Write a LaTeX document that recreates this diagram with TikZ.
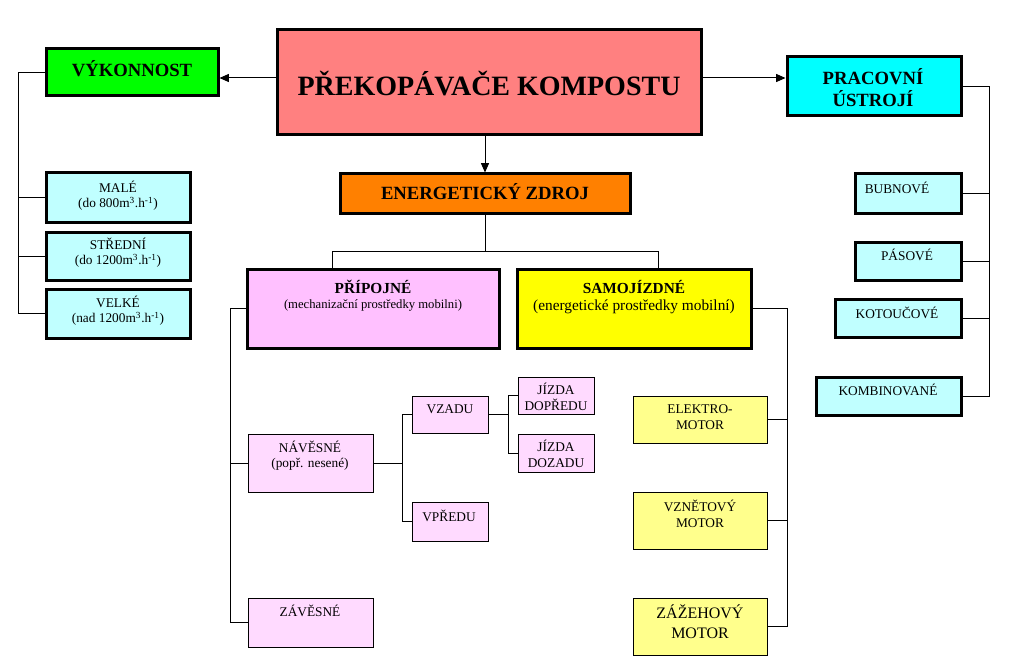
\documentclass[tikz,border=0pt]{standalone}
\usepackage{fontspec}
\setmainfont{Liberation Serif}
\usetikzlibrary{arrows.meta,fit}

\definecolor{titlered}{RGB}{255,128,128}
\definecolor{vykgreen}{RGB}{0,255,0}
\definecolor{praccyan}{RGB}{0,255,255}
\definecolor{energorange}{RGB}{255,128,0}
\definecolor{prippink}{RGB}{255,192,255}
\definecolor{samyellow}{RGB}{255,255,0}
\definecolor{lightcyan}{RGB}{192,255,255}
\definecolor{pinkhatch}{RGB}{255,218,255}
\definecolor{yellowhatch}{RGB}{255,255,140}

\tikzset{
	bigbox/.style={draw, line width=2.25pt, inner sep=0pt},
	thinbox/.style={draw, line width=0.75pt, inner sep=0pt},
	txt/.style={inner sep=0pt, align=center},
	conn/.style={line width=0.75pt},
	arr/.style={conn, -{Triangle[length=7pt,width=6pt]}},
}

\begin{document}
\begin{tikzpicture}[x=0.75pt,y=-0.75pt]
	\newcommand{\myfonttitle}{\fontsize{21}{25}\selectfont\bfseries}
	\newcommand{\myfonthead}{\fontsize{14}{16.5}\selectfont\bfseries}
	\newcommand{\myfontsub}{\fontsize{11.5}{13}\selectfont\bfseries}
	\newcommand{\myfontsmall}{\fontsize{10}{11.5}\selectfont}
	\newcommand{\myfontbig}{\fontsize{12}{15}\selectfont}
	%Page
	\useasboundingbox (0,0) rectangle (1031,656);
	%Title box
	\node [bigbox, fill=titlered, fit={(277,30) (701,135)}] (title) {};
	\node [txt, font=\myfonttitle] (titleT) at (489,84) {PŘEKOPÁVAČE KOMPOSTU};
	%Left branch: VYKONNOST
	\node [bigbox, fill=vykgreen, fit={(46,49) (218,96)}] (vyk) {};
	\node [txt, font=\myfonthead] (vykT) at (132,69) {VÝKONNOST};
	\node [bigbox, fill=lightcyan, fit={(46,173) (190,222)}] (male) {};
	\node [txt, font=\myfontsmall] (maleT) at (118,196) {MALÉ\\(do 800m\textsuperscript{3}.h\textsuperscript{-1})};
	\node [bigbox, fill=lightcyan, fit={(46,232) (190,280)}] (stred) {};
	\node [txt, font=\myfontsmall] (stredT) at (118,253) {STŘEDNÍ\\(do 1200m\textsuperscript{3}.h\textsuperscript{-1})};
	\node [bigbox, fill=lightcyan, fit={(46,289) (190,338)}] (velke) {};
	\node [txt, font=\myfontsmall] (velkeT) at (118,311) {VELKÉ\\(nad 1200m\textsuperscript{3}.h\textsuperscript{-1})};
	%Right branch: PRACOVNI USTROJI
	\node [bigbox, fill=praccyan, fit={(787,57) (961,116)}] (prac) {};
	\node [txt, font=\myfonthead] (pracT) at (873,88) {PRACOVNÍ\\ÚSTROJÍ};
	\node [bigbox, fill=lightcyan, fit={(855,174) (961,213)}] (bubn) {};
	\node [txt, font=\myfontsmall] (bubnT) at (897,188) {BUBNOVÉ};
	\node [bigbox, fill=lightcyan, fit={(855,242) (961,280)}] (pas) {};
	\node [txt, font=\myfontsmall] (pasT) at (907,255) {PÁSOVÉ};
	\node [bigbox, fill=lightcyan, fit={(835,299) (961,337)}] (kotou) {};
	\node [txt, font=\myfontsmall] (kotouT) at (897,313) {KOTOUČOVÉ};
	\node [bigbox, fill=lightcyan, fit={(816,377) (961,415)}] (kombi) {};
	\node [txt, font=\myfontsmall] (kombiT) at (888,390) {KOMBINOVANÉ};
	%Middle: ENERGETICKY ZDROJ
	\node [bigbox, fill=energorange, fit={(340,174) (630,213)}] (energ) {};
	\node [txt, font=\myfonthead] (energT) at (485,192) {ENERGETICKÝ ZDROJ};
	\node [bigbox, fill=prippink, fit={(247,269) (499,348)}] (pripoj) {};
	\node [txt, font=\myfontsub] (pripojT) at (373,287) {PŘÍPOJNÉ};
	\node [txt, font=\fontsize{9.5}{11}\selectfont] (pripojS) at (373,305) {(mechanizační prostředky mobilni)};
	\node [bigbox, fill=samyellow, fit={(517,269) (751,348)}] (samoj) {};
	\node [txt, font=\myfontsub] (samojT) at (634,287) {SAMOJÍZDNÉ};
	\node [txt, font=\fontsize{11.5}{13}\selectfont] (samojS) at (634,307) {(energetické prostředky mobilní)};
	%Pripojne sub-boxes
	\node [thinbox, fill=pinkhatch, fit={(248,434) (373,492)}] (naves) {};
	\node [txt, font=\myfontsmall] (navesT) at (310,456) {NÁVĚSNÉ\\(popř. nesené)};
	\node [thinbox, fill=pinkhatch, fit={(248,598) (373,647)}] (zaves) {};
	\node [txt, font=\myfontsmall] (zavesT) at (310,611) {ZÁVĚSNÉ};
	\node [thinbox, fill=pinkhatch, fit={(412,396) (488,433)}] (vzadu) {};
	\node [txt, font=\myfontsmall] (vzaduT) at (450,409) {VZADU};
	\node [thinbox, fill=pinkhatch, fit={(412,502) (488,541)}] (vpredu) {};
	\node [txt, font=\myfontsmall] (vpreduT) at (449,516) {VPŘEDU};
	\node [thinbox, fill=pinkhatch, fit={(518,377) (594,414)}] (jdopr) {};
	\node [txt, font=\myfontsmall] (jdoprT) at (556,397) {JÍZDA\\DOPŘEDU};
	\node [thinbox, fill=pinkhatch, fit={(518,434) (594,472)}] (jdoz) {};
	\node [txt, font=\myfontsmall] (jdozT) at (556,454) {JÍZDA\\DOZADU};
	%Samojizdne sub-boxes
	\node [thinbox, fill=yellowhatch, fit={(633,396) (767,443)}] (elek) {};
	\node [txt, font=\myfontsmall] (elekT) at (700,417) {ELEKTRO-\\MOTOR};
	\node [thinbox, fill=yellowhatch, fit={(633,492) (767,549)}] (vznet) {};
	\node [txt, font=\myfontsmall] (vznetT) at (700,514) {VZNĚTOVÝ\\MOTOR};
	\node [thinbox, fill=yellowhatch, fit={(633,598) (767,655)}] (zazeh) {};
	\node [txt, font=\myfontbig] (zazehT) at (700,622) {ZÁŽEHOVÝ\\MOTOR};
	%Arrows from the title
	\coordinate (lvl) at (0,78);
	\draw [arr] (title.west |- lvl) -- (vyk.east |- lvl);
	\draw [arr] (title.east |- lvl) -- (prac.west |- lvl);
	\draw [arr] (energ.north |- title.south) -- (energ.north);
	%Spines of the trees
	\coordinate (vykSpine) at (18,0);
	\coordinate (pracSpine) at (989,0);
	\coordinate (pripSpine) at (230,0);
	\coordinate (navSpine) at (402,0);
	\coordinate (vzaSpine) at (508,0);
	\coordinate (samSpine) at (787,0);
	\coordinate (busL) at (332,251);
	\coordinate (busR) at (658,251);
	%Vykonnost tree
	\draw [conn] (vyk.west) -- (vyk.west -| vykSpine) |- (velke.west);
	\draw [conn] (male.west) -- (male.west -| vykSpine);
	\draw [conn] (stred.west) -- (stred.west -| vykSpine);
	%Pracovni ustroji tree
	\draw [conn] (prac.east) -- (prac.east -| pracSpine) |- (kombi.east);
	\draw [conn] (bubn.east) -- (bubn.east -| pracSpine);
	\draw [conn] (pas.east) -- (pas.east -| pracSpine);
	\draw [conn] (kotou.east) -- (kotou.east -| pracSpine);
	%Energeticky zdroj split
	\draw [conn] (energ.south) -- (energ.south |- busL);
	\draw [conn] (pripoj.north -| busL) -- (busL) -- (busR) -- (samoj.north -| busR);
	%Pripojne tree
	\draw [conn] (pripoj.west) -- (pripoj.west -| pripSpine) |- (zaves.west);
	\draw [conn] (naves.west) -- (naves.west -| pripSpine);
	\draw [conn] (naves.east) -- (naves.east -| navSpine);
	\draw [conn] (vzadu.west) -- (vzadu.west -| navSpine) -- (vpredu.west -| navSpine) -- (vpredu.west);
	\draw [conn] (vzadu.east) -- (vzadu.east -| vzaSpine);
	\draw [conn] (jdopr.west) -- (jdopr.west -| vzaSpine) -- (jdoz.west -| vzaSpine) -- (jdoz.west);
	%Samojizdne tree
	\draw [conn] (samoj.east) -- (samoj.east -| samSpine) |- (zazeh.east);
	\draw [conn] (elek.east) -- (elek.east -| samSpine);
	\draw [conn] (vznet.east) -- (vznet.east -| samSpine);
\end{tikzpicture}
\end{document}
